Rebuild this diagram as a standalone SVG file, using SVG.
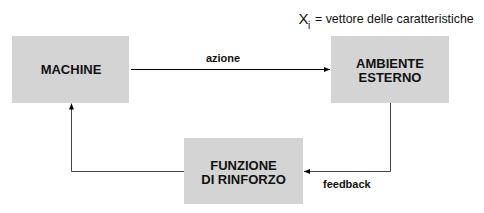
<svg xmlns="http://www.w3.org/2000/svg" width="484" height="213" viewBox="0 0 484 213">
<style>
.box{fill:#d4d4d4}
.t{font-family:"Liberation Sans",Arial,sans-serif;font-weight:bold;font-size:13px;fill:#111;text-anchor:middle}
.lbl{font-family:"Liberation Sans",Arial,sans-serif;font-weight:bold;font-size:11px;fill:#111}
.note{font-family:"Liberation Sans",Arial,sans-serif;font-size:12px;fill:#111}
.ln{fill:none;stroke:#000;stroke-width:1}
.lg{fill:none;stroke:#444;stroke-width:1}
</style>
<defs>
<marker id="ah" viewBox="0 0 6 5" refX="6" refY="2.5" markerWidth="6" markerHeight="5" markerUnits="userSpaceOnUse" orient="auto">
<path d="M0,0 L6,2.5 L0,5 z" fill="#000"/>
</marker>
</defs>
<rect width="484" height="213" fill="#fff"/>
<g id="connectors">
<line class="ln" x1="131" y1="69.5" x2="330" y2="69.5" marker-end="url(#ah)"/>
<text class="lbl" x="223" y="62" text-anchor="middle">azione</text>
<polyline class="lg" points="390.5,103 390.5,171.5 304,171.5" marker-end="url(#ah)"/>
<text class="lbl" x="323" y="188">feedback</text>
<polyline class="lg" points="184,171.5 71.5,171.5 71.5,103.5" marker-end="url(#ah)"/>
</g>
<g id="machine">
<rect class="box" x="12" y="36" width="117" height="67"/>
<text class="t" x="71" y="73.5">MACHINE</text>
</g>
<g id="ambiente">
<rect class="box" x="331" y="36" width="118" height="67"/>
<text class="t" x="390" y="67.5">AMBIENTE</text>
<text class="t" x="390" y="81.5">ESTERNO</text>
</g>
<g id="funzione">
<rect class="box" x="184" y="138" width="119" height="66"/>
<text class="t" x="243.5" y="169.5">FUNZIONE</text>
<text class="t" x="243.5" y="184">DI RINFORZO</text>
</g>
<g id="note">
<text class="note" x="298.5" y="24" style="font-size:15px">X</text>
<text class="note" x="308" y="29" style="font-size:10px">i</text>
<text class="note" x="315" y="23" style="font-size:12.4px">= vettore delle caratteristiche</text>
</g>
</svg>
